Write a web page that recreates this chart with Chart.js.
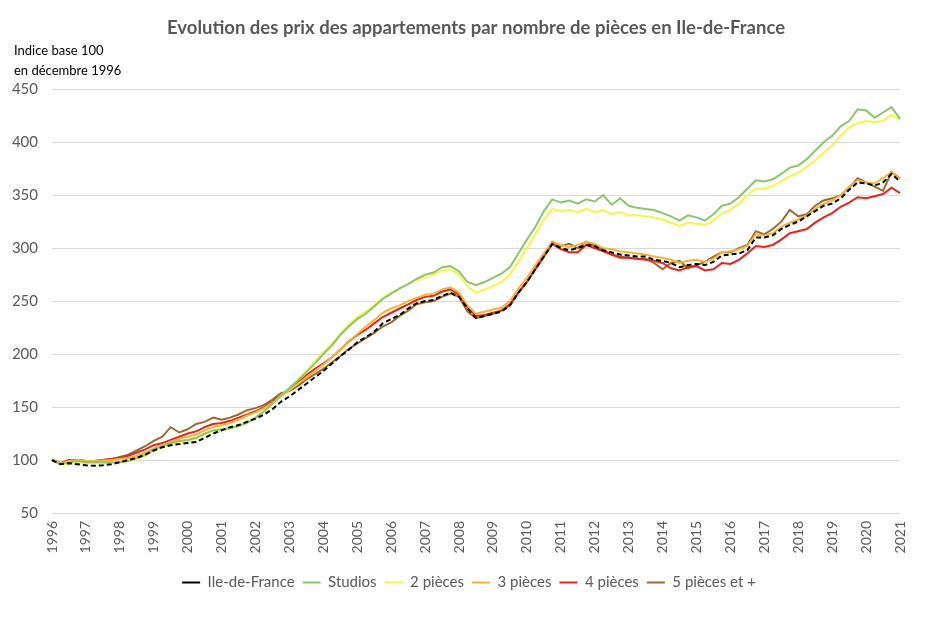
<!DOCTYPE html>
<html>
<head>
<meta charset="utf-8">
<script src="https://cdn.jsdelivr.net/npm/chart.js@4.4.1/dist/chart.umd.min.js"></script>
<style>
  html, body { margin: 0; padding: 0; background: #fff; }
  #wrap { width: 925px; height: 619px; }
</style>
</head>
<body>
<div id="wrap"><canvas id="c" width="925" height="619"></canvas></div>
<script>
// ---- Data (quarterly index, base 100 = Dec 1996) ----
const years = ['1996','1997','1998','1999','2000','2001','2002','2003','2004','2005','2006','2007','2008','2009','2010','2011','2012','2013','2014','2015','2016','2017','2018','2019','2020','2021'];
const yTicks = [50, 100, 150, 200, 250, 300, 350, 400, 450];
const seriesNames = ['Ile-de-France', 'Studios', '2 pièces', '3 pièces', '4 pièces', '5 pièces et +'];

const ileDeFrance = [
  100, 96, 97, 96,
  95, 94.5, 95, 96,
  98, 100, 102, 105,
  109, 112, 114, 115,
  116, 117, 121, 125,
  128, 131, 133, 136,
  139, 143, 148, 155,
  160, 166, 172, 178,
  184, 191, 198, 204,
  211, 216, 221, 229,
  233, 237, 243, 248,
  250, 251, 255, 258,
  254, 243, 234, 236,
  238, 240, 246, 258,
  268, 280, 292, 304,
  300, 298, 300, 303,
  302, 298, 296, 294,
  293, 292, 292, 289,
  288, 286, 282, 284,
  285, 284, 287, 293,
  294, 295, 298, 310,
  310, 312, 318, 322,
  325, 330, 335, 340,
  342, 347, 355, 362,
  361, 359, 362, 370,
  363
];
const studios = [
  100, 96, 98, 99,
  98, 98, 98, 98,
  98, 99, 102, 105,
  110, 113, 116, 118,
  119, 121, 125, 128,
  129, 130, 132, 135,
  140, 146, 153, 161,
  168, 175, 183, 191,
  200, 208, 218, 226,
  233, 238, 245, 252,
  257, 262, 266, 271,
  275, 277, 282, 283,
  278, 268, 265, 268,
  272, 276, 282, 295,
  308, 320, 335, 346,
  343, 345, 342, 346,
  344, 350, 341, 347,
  340, 338, 337, 336,
  333, 330, 326, 331,
  329, 326, 332, 340,
  342, 348, 356, 364,
  363, 365, 370, 376,
  378, 384, 392, 400,
  406, 415, 420, 431,
  430, 423, 428, 433,
  422
];
const deuxPieces = [
  100, 96, 97, 98,
  97, 97, 97, 97.5,
  98, 99, 101, 104,
  109, 112, 115, 117,
  118, 120, 124, 127,
  128, 130, 132, 136,
  140, 146, 153, 161,
  168, 176, 184, 193,
  202, 210, 219, 228,
  235, 240, 246, 253,
  258, 262, 266, 270,
  273, 275, 279, 280,
  275, 264, 258, 261,
  264, 268, 275, 287,
  300, 313, 327, 337,
  335, 336, 334, 337,
  334, 336, 332, 334,
  331, 331, 330, 329,
  327, 324, 321, 324,
  323, 322, 326, 333,
  336, 342, 350, 356,
  356, 359, 363, 368,
  371, 377, 383, 390,
  397, 406, 414, 418,
  420, 419, 420, 426,
  421
];
const troisPieces = [
  100, 97, 99, 100,
  99, 99, 99.5, 100,
  101, 102, 104, 107,
  111, 114, 117, 120,
  122, 124, 128, 131,
  133, 135, 138, 142,
  145, 149, 154, 160,
  166, 172, 178, 184,
  190, 197, 204, 212,
  219, 226, 232, 239,
  243, 246, 250, 253,
  256, 257, 261, 263,
  258, 246, 238, 240,
  242, 244, 250, 262,
  272, 284, 295, 306,
  303, 301, 303, 306,
  304, 300, 299, 297,
  296, 295, 294, 292,
  291, 289, 286, 288,
  289, 287, 290, 296,
  297, 299, 302, 313,
  312, 314, 320, 324,
  327, 331, 337, 342,
  345, 350, 358, 364,
  362, 361, 366, 372,
  366
];
const quatrePieces = [
  100, 97, 100, 100,
  99, 99, 100, 101,
  102, 104, 107, 110,
  114, 116, 119, 122,
  125, 127, 131, 134,
  135, 137, 140, 143,
  146, 150, 155, 161,
  167, 173, 180, 186,
  191, 197, 204, 212,
  218, 223, 229, 235,
  239, 243, 247, 251,
  254, 255, 259, 261,
  256, 244, 236, 237,
  239, 241, 247, 258,
  268, 280, 292, 304,
  299, 296, 296, 303,
  300, 297, 294, 291,
  291, 290, 289, 288,
  286, 281, 279, 282,
  283, 279, 280, 286,
  285, 289, 295, 302,
  301, 303, 308, 314,
  316, 318, 324, 329,
  333, 339, 343, 348,
  347, 349, 351, 357,
  352
];
const cinqPiecesEtPlus = [
  100, 97, 100, 100,
  99, 99, 100, 101,
  103, 105, 109, 113,
  118, 122, 131, 126,
  129, 134, 136, 140,
  138, 140, 143, 147,
  149, 152, 157, 163,
  165, 170, 176, 181,
  186, 192, 198, 205,
  210, 215, 220, 226,
  230, 236, 241, 247,
  249, 250, 254, 257,
  254, 240, 234, 236,
  238, 241, 246, 258,
  268, 281, 293, 306,
  302, 304, 300, 306,
  302, 298, 294, 292,
  291, 290, 290, 286,
  280, 286, 288, 281,
  284, 287, 292, 296,
  296, 300, 303, 316,
  313, 318, 325, 336,
  330, 332, 340, 345,
  347, 350, 357, 366,
  362, 358, 354, 372,
  366
];

// Category labels: one per quarter, year label on each first quarter
const labels = [];
years.forEach((y, i) => {
  if (i < years.length - 1) { labels.push(y, '', '', ''); }
  else { labels.push(y); }
});

const FONT = "Lato, 'Open Sans', sans-serif";
const GREY = '#595959';

const yLabelPlugin = {
  id: 'yLabel',
  afterLayout(chart) {
    // centre the title over the plot area, shift legend like the original
    if (chart.titleBlock) {
      chart.titleBlock.left = chart.chartArea.left;
      chart.titleBlock.right = chart.chartArea.right;
    }
    if (chart.legend) {
      chart.legend.left = 38;
      chart.legend.right = 900;
    }
  },
  afterDraw(chart) {
    const ctx = chart.ctx;
    ctx.save();
    ctx.font = "13px " + FONT;
    ctx.fillStyle = '#000';
    ctx.textAlign = 'left';
    ctx.textBaseline = 'middle';
    ctx.fillText('Indice base 100', 14, 51);
    ctx.fillText('en décembre 1996', 14, 71);
    ctx.restore();
  }
};

function ds(label, data, color, dash) {
  return {
    label, data,
    borderColor: color,
    backgroundColor: color,
    borderWidth: 2,
    borderDash: dash || [],
    pointRadius: 0,
    pointHoverRadius: 0,
    tension: 0,
    fill: false
  };
}

new Chart(document.getElementById('c'), {
  type: 'line',
  data: {
    labels,
    datasets: [
      ds(seriesNames[0], ileDeFrance, '#000000', [5, 3]),
      ds(seriesNames[1], studios, '#8FC46E'),
      ds(seriesNames[2], deuxPieces, '#F5F54A'),
      ds(seriesNames[3], troisPieces, '#F2B635'),
      ds(seriesNames[4], quatrePieces, '#E2261E'),
      ds(seriesNames[5], cinqPiecesEtPlus, '#9C6A30')
    ]
  },
  options: {
    responsive: false,
    animation: false,
    layout: { padding: { left: 0, right: 25, top: 0, bottom: 19 } },
    plugins: {
      title: {
        display: true,
        text: 'Evolution des prix des appartements par nombre de pièces en Ile-de-France',
        color: GREY,
        font: { family: FONT, size: 18.5, weight: 'bold' },
        padding: { top: 17, bottom: 50 }
      },
      legend: {
        position: 'bottom',
        labels: {
          color: GREY,
          font: { family: FONT, size: 15 },
          usePointStyle: true,
          pointStyle: 'line',
          pointStyleWidth: 18,
          boxHeight: 14,
          padding: 8
        }
      },
      tooltip: { enabled: false }
    },
    scales: {
      x: {
        type: 'category',
        offset: false,
        grid: { display: false, drawTicks: false },
        border: { display: false },
        ticks: {
          autoSkip: false,
          maxRotation: 90,
          minRotation: 90,
          padding: 8,
          color: GREY,
          font: { family: FONT, size: 14 },
          callback: function(v, i) { return labels[i]; }
        },
        afterFit(scale) { scale.height = 54; }
      },
      y: {
        min: 50,
        max: 450,
        afterBuildTicks(scale) { scale.ticks = yTicks.map(v => ({ value: v })); },
        grid: { color: '#D9D9D9', lineWidth: 1, drawTicks: false },
        border: { display: false },
        ticks: {
          padding: 14,
          color: GREY,
          font: { family: FONT, size: 15 }
        },
        afterFit(scale) { scale.width = 52; }
      }
    }
  },
  plugins: [yLabelPlugin]
});
</script>
</body>
</html>
